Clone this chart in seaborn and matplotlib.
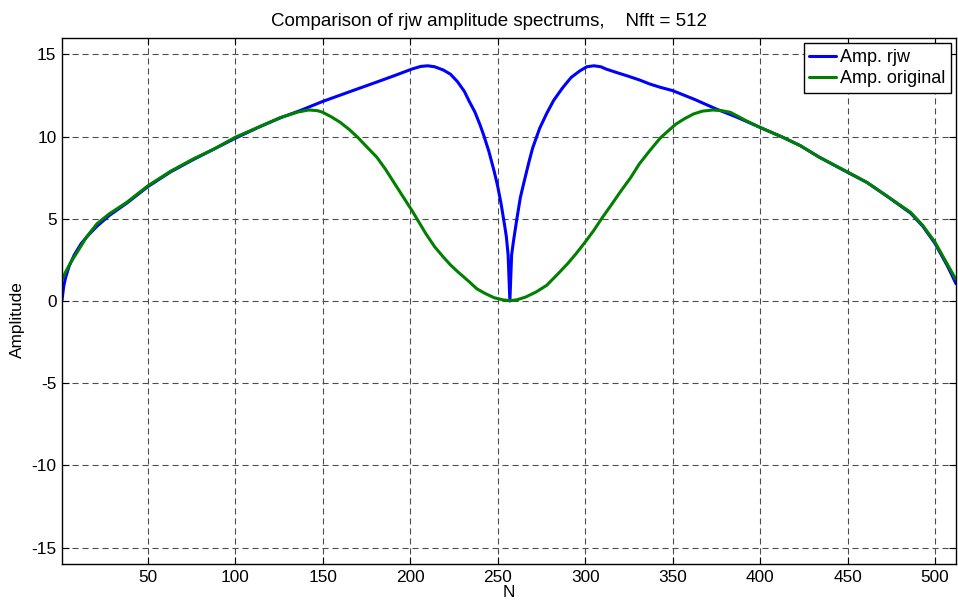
import matplotlib
matplotlib.use("Agg")
import matplotlib.pyplot as plt
import seaborn as sns
import pandas as pd

# ---- data ----
n_rjw = [1, 2, 3, 5, 8, 12, 16, 21, 28, 38, 50, 63, 76, 88, 100, 114, 126, 137,
         150, 168, 183, 192, 201, 206, 210, 214, 219, 223, 227, 231, 234, 237,
         240, 242, 245, 248, 250, 252, 254, 255, 256, 257, 258, 259, 261, 263,
         265, 268, 270, 274, 278, 282, 287, 292, 297, 301, 305, 309, 312, 318,
         324, 331, 337, 343, 350, 362, 375, 387, 400, 413, 423, 434, 450, 461,
         472, 486, 493, 500, 507, 510, 512]
amp_rjw = [0.05, 0.9, 1.4, 2.1, 2.8, 3.5, 4.0, 4.55, 5.2, 5.95, 6.95, 7.85, 8.6,
           9.25, 9.9, 10.6, 11.15, 11.58, 12.14, 12.83, 13.40, 13.75, 14.11,
           14.27, 14.31, 14.25, 14.05, 13.8, 13.35, 12.75, 12.1, 11.5, 10.7,
           10.1, 9.1, 7.9, 7.0, 5.9, 4.6, 3.9, 2.8, 0.0, 2.8, 3.6, 5.0, 6.3,
           7.2, 8.5, 9.3, 10.5, 11.4, 12.2, 12.95, 13.6, 14.0, 14.25, 14.31,
           14.25, 14.11, 13.9, 13.7, 13.45, 13.2, 13.0, 12.8, 12.29, 11.68,
           11.17, 10.56, 9.96, 9.45, 8.74, 7.83, 7.22, 6.42, 5.35, 4.55, 3.5,
           2.15, 1.5, 1.05]

n_orig = [1, 3, 6, 9, 15, 21, 28, 38, 50, 63, 76, 88, 100, 114, 126, 130, 136,
          142, 147, 150, 155, 160, 165, 170, 175, 181, 186, 190, 195, 201, 205,
          209, 214, 219, 223, 227, 234, 238, 243, 248, 253, 257, 261, 266, 272,
          278, 284, 290, 295, 300, 305, 310, 315, 320, 326, 331, 337, 343, 348,
          352, 357, 362, 367, 373, 378, 383, 388, 392, 400, 413, 423, 434, 450,
          461, 472, 486, 493, 500, 507, 512]
amp_orig = [1.3, 1.75, 2.35, 2.85, 3.89, 4.7, 5.3, 6.0, 7.0, 7.89, 8.64, 9.25,
            9.96, 10.61, 11.17, 11.3, 11.5, 11.62, 11.58, 11.48, 11.2, 10.87,
            10.45, 9.96, 9.4, 8.74, 8.0, 7.33, 6.5, 5.51, 4.8, 4.09, 3.3, 2.67,
            2.2, 1.8, 1.15, 0.75, 0.45, 0.2, 0.07, 0.02, 0.07, 0.24, 0.55, 0.95,
            1.6, 2.27, 2.9, 3.58, 4.3, 5.1, 5.85, 6.62, 7.5, 8.34, 9.15, 9.92,
            10.4, 10.77, 11.1, 11.38, 11.55, 11.62, 11.58, 11.48, 11.2, 10.97,
            10.56, 9.96, 9.45, 8.74, 7.85, 7.22, 6.42, 5.4, 4.6, 3.58, 2.25, 1.3]

series_labels = ["Amp. rjw", "Amp. original"]
x_ticks = [50, 100, 150, 200, 250, 300, 350, 400, 450, 500]
y_ticks = [-15, -10, -5, 0, 5, 10, 15]
title_text = "Comparison of rjw amplitude spectrums,    Nfft = 512"

df = pd.concat([
    pd.DataFrame({"N": n_rjw, "Amplitude": amp_rjw, "series": series_labels[0]}),
    pd.DataFrame({"N": n_orig, "Amplitude": amp_orig, "series": series_labels[1]}),
])

sns.set_style("ticks")
plt.rcParams["font.family"] = ["Liberation Sans", "DejaVu Sans"]
plt.rcParams["axes.unicode_minus"] = False
plt.rcParams["text.color"] = "black"
plt.rcParams["axes.labelcolor"] = "black"

fig = plt.figure(figsize=(9.58, 6.08), dpi=100)
ax = fig.add_axes([62 / 958, 1 - 564 / 608, (956 - 62) / 958, (564 - 38) / 608])

sns.lineplot(data=df, x="N", y="Amplitude", hue="series",
             palette={series_labels[0]: "#0000ff", series_labels[1]: "#008000"},
             linewidth=2.2, ax=ax, sort=False, estimator=None)

ax.set_xlim(1, 512)
ax.set_ylim(-16, 16)
ax.set_xticks(x_ticks)
ax.set_yticks(y_ticks)
ax.grid(True, color="0.3", linestyle=(0, (5.5, 3.5)), linewidth=0.8)
ax.tick_params(direction="in", length=5, width=0.8, top=True, right=True,
               labelsize=12.4, colors="black", pad=4)
for s in ax.spines.values():
    s.set_visible(True)
    s.set_color("black")
    s.set_linewidth(1.0)

ax.set_xlabel("N", fontsize=12.4, labelpad=0)
ax.set_ylabel("Amplitude", fontsize=12.4)
ax.yaxis.set_label_coords((25 - 62) / (956 - 62), (564 - 320) / (564 - 38))
ax.set_title(title_text, fontsize=13.5, pad=9, color="black",
             x=(489 - 62) / (956 - 62))

leg = ax.legend(loc="upper right", fontsize=13, frameon=True, fancybox=False,
                edgecolor="black", framealpha=1, borderaxespad=0.3,
                handlelength=1.5, handletextpad=0.2, borderpad=0.3,
                labelspacing=0.25)
leg.get_frame().set_linewidth(1.0)
for t in leg.get_texts():
    t.set_color("black")

fig.savefig("out.png", dpi=100)
